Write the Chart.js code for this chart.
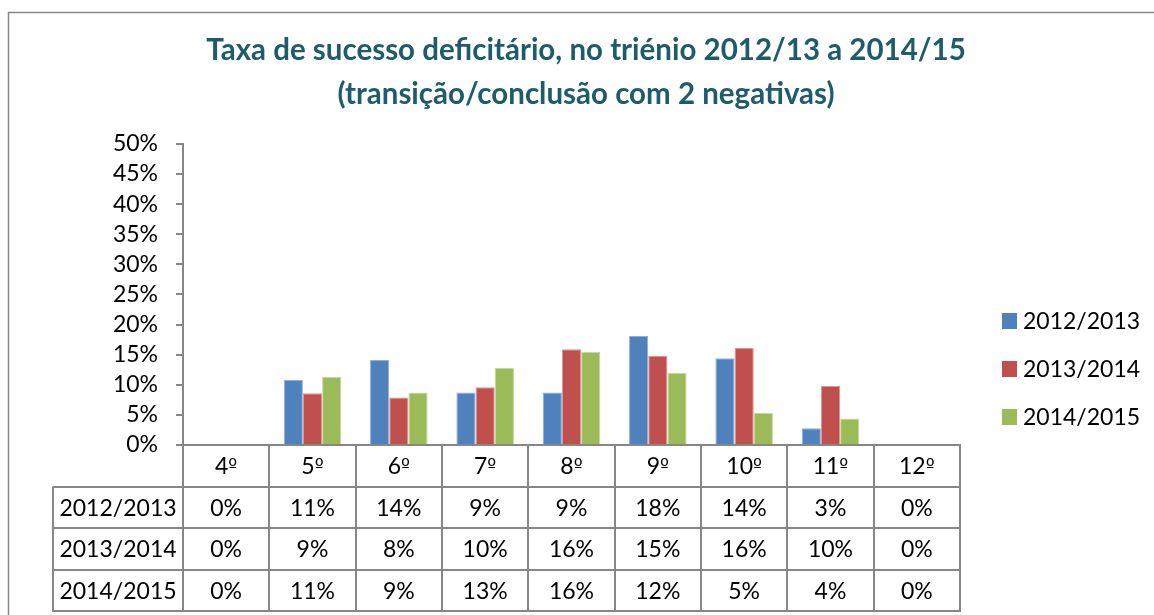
<!DOCTYPE html>
<html><head><meta charset="utf-8">
<script src="https://cdn.jsdelivr.net/npm/chart.js@4.4.1/dist/chart.umd.min.js"></script>
<style>html,body{margin:0;padding:0;background:#fff;}#wrap{width:1154px;height:615px;}</style>
</head><body><div id="wrap"><canvas id="c" width="1154" height="615"></canvas></div>
<script>
// ---- data ----
const categories = ['4º','5º','6º','7º','8º','9º','10º','11º','12º'];
const seriesNames = ['2012/2013','2013/2014','2014/2015'];
const values2012 = [0, 10.8, 14.1, 8.7, 8.7, 18.1, 14.4, 2.8, 0];
const values2013 = [0, 8.6, 7.9, 9.6, 15.9, 14.8, 16.1, 9.8, 0];
const values2014 = [0, 11.3, 8.7, 12.8, 15.5, 12.0, 5.3, 4.4, 0];
const table2012 = ['0%','11%','14%','9%','9%','18%','14%','3%','0%'];
const table2013 = ['0%','9%','8%','10%','16%','15%','16%','10%','0%'];
const table2014 = ['0%','11%','9%','13%','16%','12%','5%','4%','0%'];
const titleLines = ['Taxa de sucesso deficitário, no triénio 2012/13 a 2014/15','(transição/conclusão com 2 negativas)'];

// ---- styles ----
const FONT = 'Lato, "Open Sans", sans-serif';
const ORD_FONT = '"DejaVu Sans", "Liberation Sans", sans-serif';
const colors = ['#4F81BD','#C0504D','#9BBB59'];
const edge = ['#8FB0D8','#DC9695','#C5D89F'];
const LINE = '#878787';
Chart.defaults.font.family = FONT;

const tables = [table2012, table2013, table2014];

// draws a label whose ordinal sign uses a font that shows the underlined form
function drawMixed(ctx, text, cx, cy) {
  const runs = [];
  for (const ch of text) {
    const f = ch === 'º' ? '19px ' + ORD_FONT : '23px ' + FONT;
    if (runs.length && runs[runs.length - 1].f === f) runs[runs.length - 1].t += ch;
    else runs.push({ f, t: ch });
  }
  let total = 0;
  runs.forEach(r => { ctx.font = r.f; r.w = ctx.measureText(r.t).width; total += r.w; });
  let x = cx - total / 2;
  ctx.textAlign = 'left';
  runs.forEach(r => { ctx.font = r.f; ctx.fillText(r.t, x, cy); x += r.w; });
  ctx.textAlign = 'center';
}

const deco = {
  id: 'deco',
  beforeDraw(chart) {
    const ctx = chart.ctx;
    ctx.save();
    ctx.fillStyle = '#fff';
    ctx.fillRect(0, 0, chart.width, chart.height);
    ctx.strokeStyle = LINE; ctx.lineWidth = 1.5;
    ctx.strokeRect(8.5, 12.5, chart.width + 20, chart.height + 20);
    ctx.restore();
  },
  afterDraw(chart) {
    const ctx = chart.ctx;
    const xs = chart.scales.x;
    const n = chart.data.labels.length;
    const slot = (xs.right - xs.left) / n;
    const top = chart.chartArea.bottom;
    const rowH = 41.5;
    const labelLeft = 53;
    const bottom = top + rowH * 4;
    ctx.save();
    ctx.strokeStyle = LINE; ctx.lineWidth = 2;
    ctx.beginPath();
    for (let i = 0; i <= n; i++) {
      const x = Math.round(xs.left + i * slot);
      ctx.moveTo(x, top); ctx.lineTo(x, bottom);
    }
    for (let k = 1; k <= 4; k++) {
      const y = Math.round(top + k * rowH);
      ctx.moveTo(labelLeft, y); ctx.lineTo(xs.right + 1, y);
    }
    ctx.moveTo(labelLeft, top + rowH); ctx.lineTo(labelLeft, bottom + 1);
    ctx.stroke();
    ctx.fillStyle = '#000';
    ctx.textAlign = 'center'; ctx.textBaseline = 'middle';
    chart.data.labels.forEach((lab, i) => {
      const cx = xs.getPixelForValue(i);
      drawMixed(ctx, lab, cx, top + rowH / 2 + 1);
      ctx.font = '23px ' + FONT;
      tables.forEach((t, r) => ctx.fillText(t[i], cx, top + rowH * (r + 1.5) + 1));
    });
    ctx.font = '23px ' + FONT;
    chart.data.datasets.forEach((ds, r) => {
      ctx.fillText(ds.label, (labelLeft + xs.left) / 2, top + rowH * (r + 1.5) + 1);
    });
    // legend
    ctx.textAlign = 'left';
    chart.data.datasets.forEach((ds, r) => {
      const cy = 321 + r * 48;
      ctx.fillStyle = ds.backgroundColor;
      ctx.fillRect(1002, cy - 8, 15, 16);
      ctx.fillStyle = '#000';
      ctx.fillText(ds.label, 1023, cy + 1);
    });
    ctx.restore();
  }
};

new Chart(document.getElementById('c'), {
  type: 'bar',
  data: {
    labels: categories,
    datasets: [values2012, values2013, values2014].map((v, i) => ({
      label: seriesNames[i], data: v,
      backgroundColor: colors[i], borderColor: edge[i], borderWidth: 1,
      categoryPercentage: 0.667, barPercentage: 1.0
    }))
  },
  options: {
    responsive: false, animation: false,
    layout: { padding: { left: 18, right: 0, top: 0, bottom: 0 } },
    plugins: {
      legend: { display: false },
      tooltip: { enabled: false },
      title: {
        display: true, text: titleLines, color: '#1E5C6C',
        font: { size: 29.5, weight: 'bold', lineHeight: 1.49, family: FONT },
        padding: { top: 29, bottom: 27 }
      }
    },
    scales: {
      x: {
        ticks: { display: false },
        grid: { display: false, drawTicks: false },
        border: { display: true, color: LINE, width: 2 },
        afterFit(s) { s.height = 170; }
      },
      y: {
        min: 0, max: 50,
        ticks: { stepSize: 5, autoSkip: false, callback: v => v + '%', color: '#000', font: { size: 23 }, padding: 18 },
        grid: { drawOnChartArea: false, drawTicks: true, tickLength: 7, color: LINE, lineWidth: 2 },
        border: { color: LINE, width: 2 },
        afterFit(s) { s.width = 165; }
      },
      spacer: {
        position: 'right', display: true,
        ticks: { display: false }, grid: { display: false }, border: { display: false },
        afterFit(s) { s.width = 194; }
      }
    }
  },
  plugins: [deco]
});
</script></body></html>
